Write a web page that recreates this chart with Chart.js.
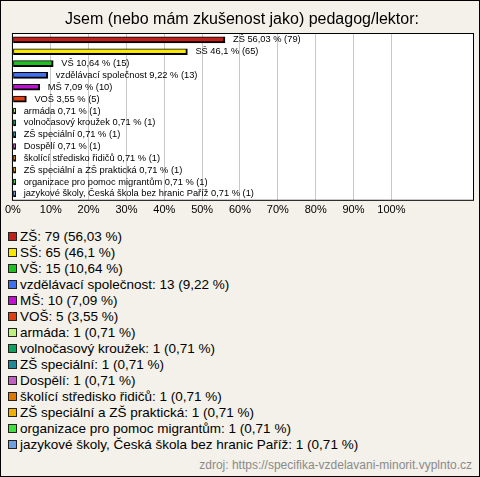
<!DOCTYPE html>
<html>
<head>
<meta charset="utf-8">
<script src="https://cdn.jsdelivr.net/npm/chart.js@4/dist/chart.umd.min.js"></script>
<style>
  body { margin: 0; }
  #box { position: relative; width: 478px; height: 475px; border: 1px solid #000; background: #f3f1e9; font-family: "Liberation Sans", Arial, sans-serif; overflow: hidden; }
  #wrap { position: absolute; left: 0; top: 0; width: 478px; height: 224px; }
  #legenda { position: absolute; left: 7px; top: 228px; font-size: 13.5px; line-height: 16px; color: #000; }
  #legenda div { white-space: nowrap; }
  #legenda span.box { display: inline-block; width: 7px; height: 7px; border: 1px solid #222; margin-right: 3px; vertical-align: 0px; }
  #zdroj { position: absolute; right: 7px; top: 457px; font-size: 12px; color: #8a8a8a; }
</style>
</head>
<body>
<div id="box">
  <div id="wrap"><canvas id="barChart"></canvas></div>
  <div id="legenda"></div>
  <div id="zdroj">zdroj: https://specifika-vzdelavani-minorit.vyplnto.cz</div>
</div>
<script>
var kategorie = ["ZŠ", "SŠ", "VŠ", "vzdělávací společnost", "MŠ", "VOŠ", "armáda", "volnočasový kroužek", "ZŠ speciální", "Dospělí", "školící středisko řidičů", "ZŠ speciální a ZŠ praktická", "organizace pro pomoc migrantům", "jazykové školy, Česká škola bez hranic Paříž"]
var pocty = [79, 65, 15, 13, 10, 5, 1, 1, 1, 1, 1, 1, 1, 1]
var procenta = [56.03, 46.1, 10.64, 9.22, 7.09, 3.55, 0.71, 0.71, 0.71, 0.71, 0.71, 0.71, 0.71, 0.71]
var barvy = ["#c0201c", "#f8e800", "#20c020", "#4070f0", "#c010d0", "#e04010", "#c0f080", "#10a060", "#208898", "#c060c0", "#e07800", "#f0b000", "#40e040", "#70a0e0"]
var osaX = [0, 10, 20, 30, 40, 50, 60, 70, 80, 90, 100]

function fmt(p){ return String(p).replace('.', ',') }

// legenda pod grafem
var leg = document.getElementById('legenda')
kategorie.forEach(function(k, i){
  var d = document.createElement('div')
  d.innerHTML = '<span class="box" style="background:' + barvy[i] + '"></span>' + k + ': ' + pocty[i] + ' (' + fmt(procenta[i]) + ' %)'
  leg.appendChild(d)
})

var pozadi = {
  id: 'pozadi',
  beforeDraw: function(chart){
    var a = chart.chartArea, c = chart.ctx
    c.save()
    c.fillStyle = '#fff'
    c.fillRect(a.left, a.top, a.right - a.left, a.bottom - a.top)
    c.restore()
  },
  beforeDatasetsDraw: function(chart){
    var a = chart.chartArea, c = chart.ctx
    c.save()
    c.strokeStyle = '#000'
    c.lineWidth = 1
    c.strokeRect(a.left - 0.5, a.top - 0.5, a.right - a.left + 1, a.bottom - a.top + 1)
    c.restore()
  },
  afterDatasetsDraw: function(chart){
    var c = chart.ctx
    var meta = chart.getDatasetMeta(0)
    c.save()
    c.font = '9.3px "Liberation Sans", Arial, sans-serif'
    c.fillStyle = '#000'
    c.textBaseline = 'middle'
    meta.data.forEach(function(el, i){
      c.fillText(kategorie[i] + ' ' + fmt(procenta[i]) + ' % (' + pocty[i] + ')', el.x + 8, el.y)
    })
    c.restore()
  }
}

new Chart(document.getElementById('barChart').getContext('2d'), {
  type: 'bar',
  data: {
    labels: kategorie,
    datasets: [{
      data: procenta,
      backgroundColor: barvy,
      borderColor: '#000',
      borderWidth: { top: 1, left: 1, right: 2, bottom: 2 },
      borderSkipped: false,
      barThickness: 6
    }]
  },
  options: {
    indexAxis: 'y',
    responsive: true,
    maintainAspectRatio: false,
    animation: false,
    layout: { padding: { left: 10, right: 6, top: 0, bottom: 4 } },
    plugins: {
      legend: { display: false },
      tooltip: { enabled: false },
      title: {
        display: true,
        text: 'Jsem (nebo mám zkušenost jako) pedagog/lektor:',
        color: '#000',
        font: { family: '"Liberation Sans", Arial, sans-serif', size: 16, weight: 'normal' },
        padding: { top: 9, bottom: 4.8 }
      }
    },
    scales: {
      x: {
        min: 0,
        max: 121.58,
        afterBuildTicks: function(axis){
          axis.ticks = osaX.map(function(v){ return { value: v } })
        },
        ticks: {
          color: '#000',
          padding: 4,
          maxRotation: 0,
          autoSkip: false,
          font: { family: '"Liberation Sans", Arial, sans-serif', size: 11 },
          callback: function(v){ return v + '%' }
        },
        grid: { color: '#c8c8c8', drawTicks: false },
        border: { display: false }
      },
      y: { display: false, grid: { display: false } }
    }
  },
  plugins: [pozadi]
})
</script>
</body>
</html>
